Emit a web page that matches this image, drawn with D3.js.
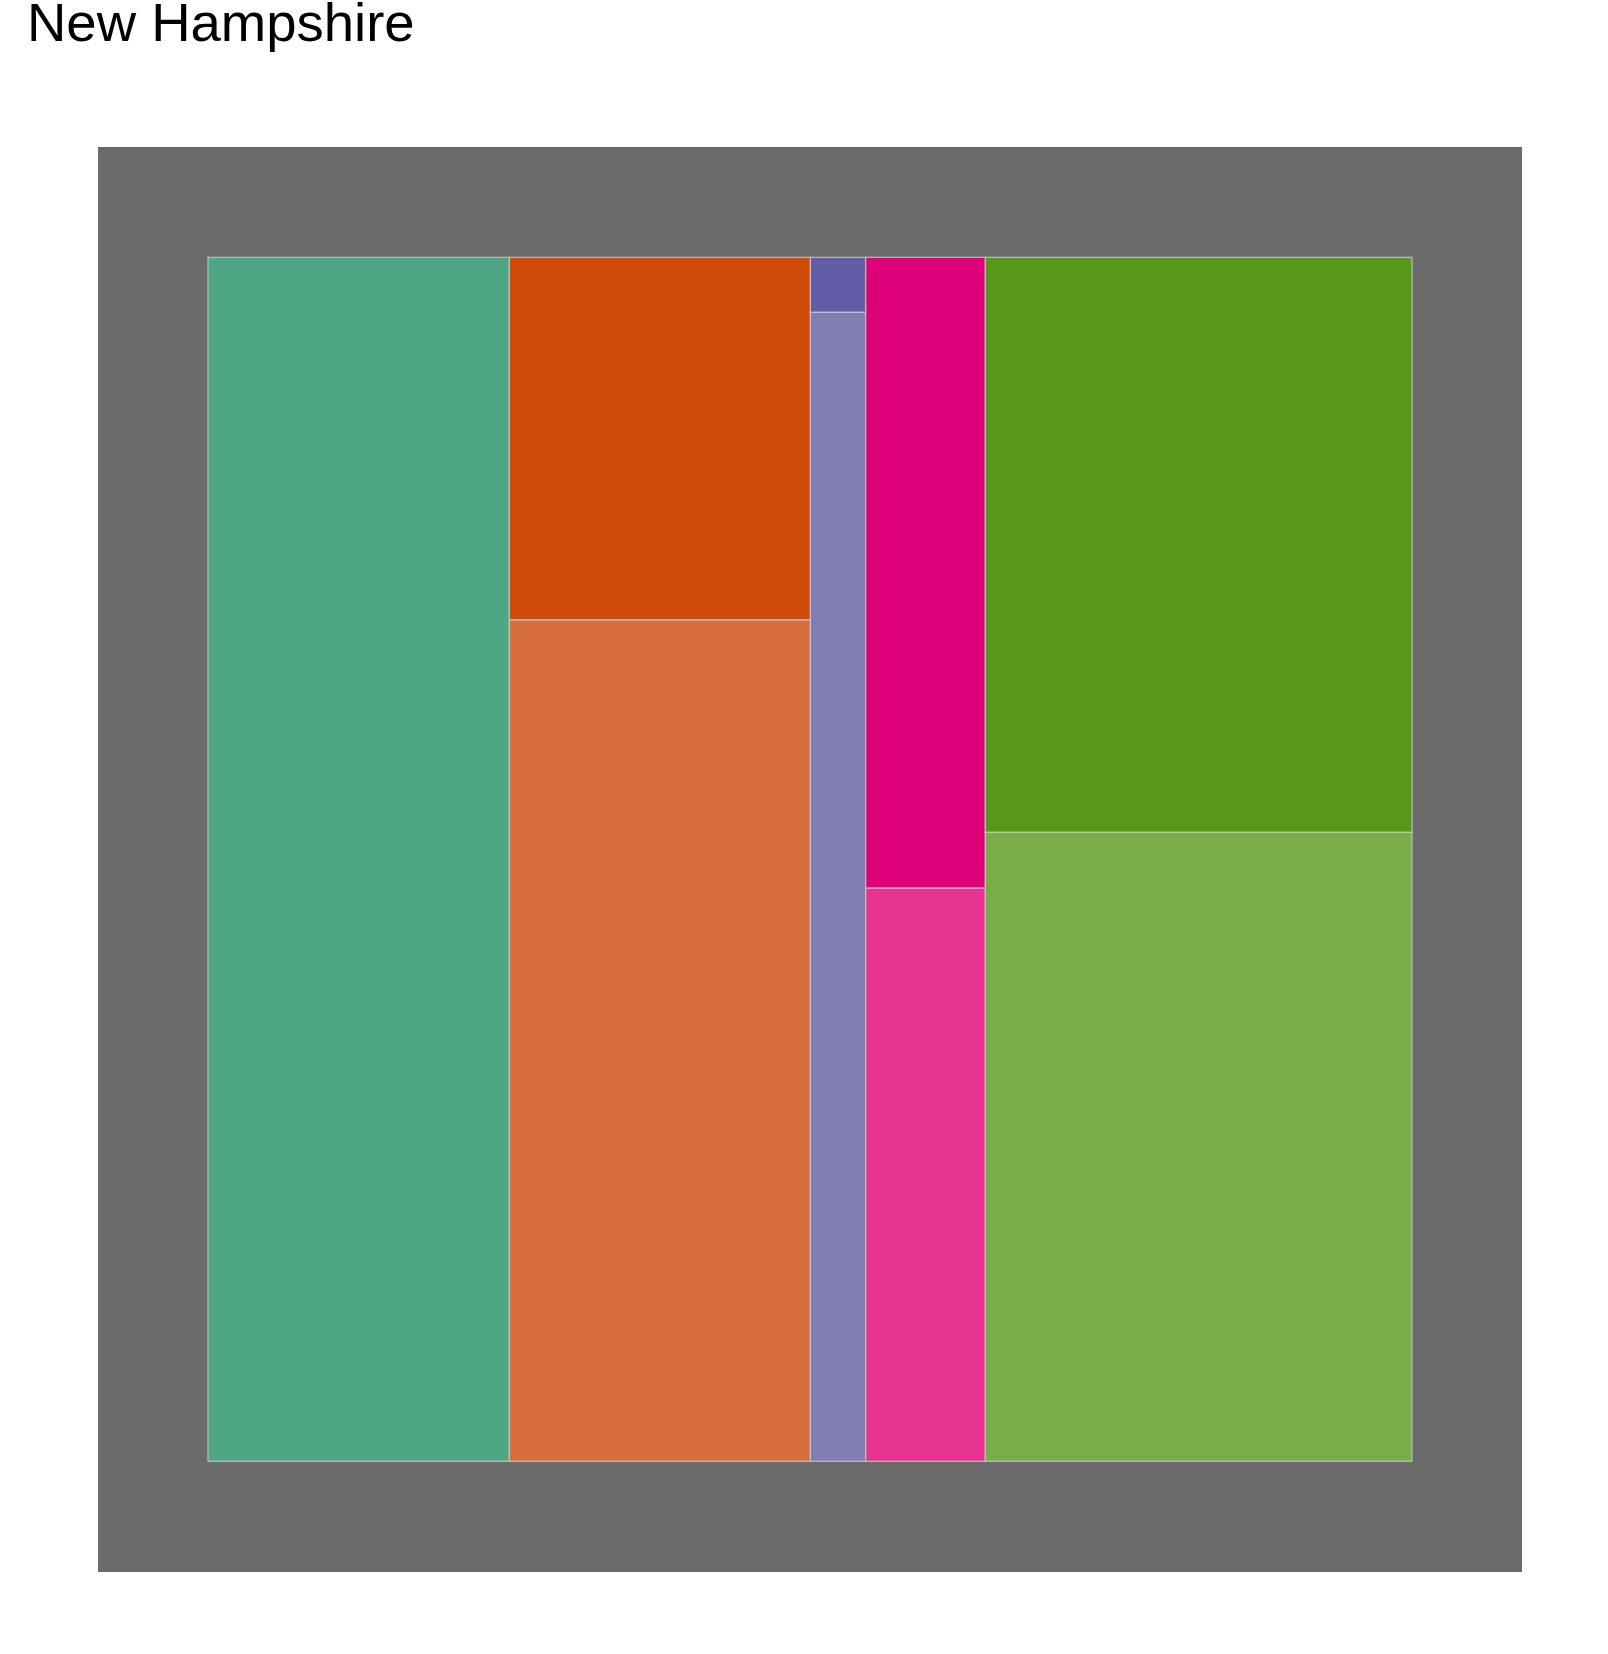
<!DOCTYPE html>
<html>
<head>
<meta charset="utf-8">
<script src="https://cdn.jsdelivr.net/npm/d3@7"></script>
<style>
  html, body { margin: 0; padding: 0; background: #ffffff; }
  svg { display: block; }
</style>
</head>
<body>
<div id="chart"></div>
<script>
// ---- data ----
const title = "New Hampshire";
const categories = ["A", "B", "C", "D", "E"];
const columnShare = [0.2503, 0.2500, 0.0460, 0.0993, 0.3544];
// share of the upper (darker) block within each column; null = single block
const topShare = [null, 0.3012, 0.0457, 0.5240, 0.4776];
const topColors = ["#4ea784", "#cf4a08", "#635ca6", "#de0077", "#579819"];
const bottomColors = ["#4ea784", "#d86e3c", "#837db5", "#e5338f", "#78ad48"];

const W = 1608, H = 1654;
const svg = d3.select("#chart").append("svg")
  .attr("width", W).attr("height", H);

// panel background
const panel = { x0: 98, y0: 147, x1: 1522, y1: 1572 };
svg.append("rect")
  .attr("x", panel.x0).attr("y", panel.y0)
  .attr("width", panel.x1 - panel.x0).attr("height", panel.y1 - panel.y0)
  .attr("fill", "#6b6b6b");

const x = d3.scaleLinear().domain([0, 1]).range([208, 1412]);
const y = d3.scaleLinear().domain([0, 1]).range([257.3, 1461.3]);

// build rectangles
const cells = [];
let cum = 0;
categories.forEach((c, i) => {
  const a = cum, b = cum + columnShare[i];
  cum = b;
  if (topShare[i] == null) {
    cells.push({ x0: a, x1: b, y0: 0, y1: 1, fill: topColors[i] });
  } else {
    cells.push({ x0: a, x1: b, y0: 0, y1: topShare[i], fill: topColors[i] });
    cells.push({ x0: a, x1: b, y0: topShare[i], y1: 1, fill: bottomColors[i] });
  }
});
const total = d3.sum(columnShare);
cells.forEach(d => { d.x0 /= total; d.x1 /= total; });

svg.append("g").selectAll("rect")
  .data(cells)
  .join("rect")
  .attr("x", d => x(d.x0))
  .attr("y", d => y(d.y0))
  .attr("width", d => x(d.x1) - x(d.x0))
  .attr("height", d => y(d.y1) - y(d.y0))
  .attr("fill", d => d.fill)
  .attr("stroke", "#c4c4c4")
  .attr("stroke-width", 1.1);

svg.append("text")
  .attr("x", 27).attr("y", 41)
  .attr("font-family", "Liberation Sans, Arial, sans-serif")
  .attr("font-size", 54.5)
  .attr("fill", "#000")
  .text(title);
</script>
</body>
</html>
